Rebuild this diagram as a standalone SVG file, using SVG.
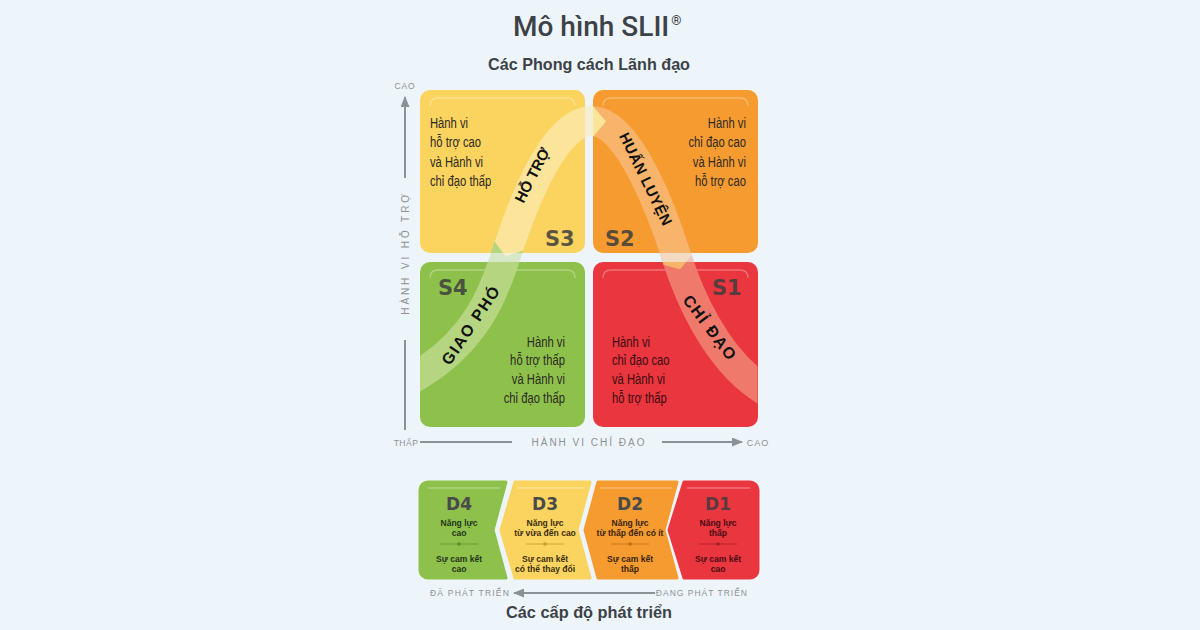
<svg xmlns="http://www.w3.org/2000/svg" width="1200" height="630" viewBox="0 0 1200 630">
<style>
.body{font-family:"Liberation Sans",Arial,sans-serif;font-size:15px;fill:#2e2a25}
.slab{font-family:"DejaVu Sans",sans-serif;font-weight:bold;font-size:21px;fill:#3d3d3d;fill-opacity:.85}
.band{font-family:"Liberation Sans",Arial,sans-serif;font-weight:bold;fill:#111;dominant-baseline:central;text-anchor:middle}
.axis{font-family:"Liberation Sans",Arial,sans-serif;fill:#8c9196}
.dlab{font-family:"DejaVu Sans",sans-serif;font-weight:bold;font-size:17px;fill:#4a4a4a;text-anchor:middle}
.dtx{font-family:"Liberation Sans",Arial,sans-serif;font-weight:bold;font-size:9.5px;text-anchor:middle}
.hl{fill:none;stroke:#fff;stroke-opacity:.3;stroke-width:1.5}
.bandpath{fill:none;stroke-width:30}
.ax{stroke:#8c9196;stroke-width:2;fill:none}
</style>
<defs>
<marker id="ah" markerUnits="userSpaceOnUse" markerWidth="11" markerHeight="9" refX="10" refY="4.5" orient="auto">
<path d="M0,0 L11,4.5 L0,9 Z" fill="#8c9196"/>
</marker>
<path id="curve" d="M 394 390 L 420 374 C 475 340 493 295 505 258 C 517 221 550 121 592 121 C 630 121 665 220 677 258 C 689 296 715 355 757 385 L 781 402"/>
<clipPath id="cG"><rect x="420" y="230" width="172" height="197"/></clipPath>
<clipPath id="cR"><rect x="589" y="230" width="168.5" height="197"/></clipPath>
<clipPath id="cO"><polygon points="592,88 760,88 760,230 697,249.4 680,269.3 655,262.6 592,282.5"/></clipPath>
<clipPath id="cY"><polygon points="420,88 592,88 592,105 606,121.5 592,138 592,270.9 526.6,249.6 505.5,256.4 492.4,238.4 420,214.8"/></clipPath>
</defs>
<rect width="1200" height="630" fill="#EEF5FA"/>

<text x="513" y="36" style="font-family:Roboto,'Liberation Sans',sans-serif;font-weight:500;font-size:28px;fill:#3c4248">Mô hình SLII<tspan dx="2" dy="-11" style="font-size:13px">®</tspan></text>
<text x="589" y="70" text-anchor="middle" textLength="202" lengthAdjust="spacingAndGlyphs" style="font-family:'Liberation Sans',Arial,sans-serif;font-weight:bold;font-size:17px;fill:#3c4248">Các Phong cách Lãnh đạo</text>

<g id="S3">
<rect x="420" y="90" width="165" height="163" rx="10" fill="#FAD45F"/>
<path class="hl" d="M430 106 Q430 98 438 98 L567 98 Q575 98 575 106"/>
<g transform="translate(430 0) scale(0.75 1)">
<text class="body" x="0" y="128">Hành vi</text>
<text class="body" x="0" y="147.5">hỗ trợ cao</text>
<text class="body" x="0" y="167">và Hành vi</text>
<text class="body" x="0" y="186.5">chỉ đạo thấp</text>
</g>
</g>
<g id="S2">
<rect x="593" y="90" width="165" height="163" rx="10" fill="#F59B2F"/>
<path class="hl" d="M603 106 Q603 98 611 98 L740 98 Q748 98 748 106"/>
<g transform="translate(746 0) scale(0.75 1)" text-anchor="end">
<text class="body" x="0" y="128">Hành vi</text>
<text class="body" x="0" y="147.5">chỉ đạo cao</text>
<text class="body" x="0" y="167">và Hành vi</text>
<text class="body" x="0" y="186.5">hỗ trợ cao</text>
</g>
</g>
<g id="S4">
<rect x="420" y="262" width="165" height="165" rx="10" fill="#8DC14B"/>
<path class="hl" d="M430 278 Q430 270 438 270 L567 270 Q575 270 575 278"/>
<g transform="translate(565 0) scale(0.75 1)" text-anchor="end">
<text class="body" x="0" y="346.5">Hành vi</text>
<text class="body" x="0" y="365.5">hỗ trợ thấp</text>
<text class="body" x="0" y="384.5">và Hành vi</text>
<text class="body" x="0" y="403.5">chỉ đạo thấp</text>
</g>
</g>
<g id="S1">
<rect x="593" y="262" width="165" height="165" rx="10" fill="#E9363F"/>
<path class="hl" d="M603 278 Q603 270 611 270 L740 270 Q748 270 748 278"/>
<g transform="translate(612 0) scale(0.75 1)">
<text class="body" x="0" y="346.5" style="fill:#3d0c10">Hành vi</text>
<text class="body" x="0" y="365.5" style="fill:#3d0c10">chỉ đạo cao</text>
<text class="body" x="0" y="384.5" style="fill:#3d0c10">và Hành vi</text>
<text class="body" x="0" y="403.5" style="fill:#3d0c10">hỗ trợ thấp</text>
</g>
</g>

<g id="connectors">
<use href="#curve" class="bandpath" stroke="#B5D580" clip-path="url(#cG)"/>
<use href="#curve" class="bandpath" stroke="#EF7A6B" clip-path="url(#cR)"/>
<use href="#curve" class="bandpath" stroke="#F8B46A" clip-path="url(#cO)"/>
<use href="#curve" class="bandpath" stroke="#FCE49A" clip-path="url(#cY)"/>
<rect x="585" y="90" width="8" height="337" fill="#EEF5FA" fill-opacity="0.6"/>
<rect x="420" y="253" width="338" height="9" fill="#EEF5FA" fill-opacity="0.6"/>
<line class="ax" x1="405" y1="178" x2="405" y2="97" marker-end="url(#ah)"/>
<line class="ax" x1="405" y1="340" x2="405" y2="430"/>
<line class="ax" x1="420" y1="442" x2="512" y2="442"/>
<line class="ax" x1="662" y1="442" x2="742" y2="442" marker-end="url(#ah)"/>
<line class="ax" x1="655" y1="593" x2="514" y2="593" marker-end="url(#ah)"/>
</g>

<text class="band" transform="translate(532 175) rotate(-63)" style="font-size:15px">HỖ TRỢ</text>
<text class="band" transform="translate(646 179) rotate(64)" style="font-size:15px;letter-spacing:0.3px">HUẤN LUYỆN</text>
<text class="band" transform="translate(471 325) rotate(-56)" style="font-size:16px;letter-spacing:1.5px">GIAO PHÓ</text>
<text class="band" transform="translate(710 328) rotate(53)" style="font-size:16px;letter-spacing:1.5px">CHỈ ĐẠO</text>

<text class="slab" x="545" y="246">S3</text>
<text class="slab" x="605" y="246">S2</text>
<text class="slab" x="438" y="295">S4</text>
<text class="slab" x="712" y="295">S1</text>

<text class="axis" x="405" y="89" text-anchor="middle" style="font-size:8.5px;letter-spacing:0.8px">CAO</text>
<text class="axis" transform="translate(405 253) rotate(-90)" text-anchor="middle" dominant-baseline="central" style="font-size:10px;letter-spacing:2.9px">HÀNH VI HỖ TRỢ</text>
<text class="axis" x="406" y="446" text-anchor="middle" style="font-size:8.5px;letter-spacing:0.5px">THẤP</text>
<text class="axis" x="589" y="446" text-anchor="middle" style="font-size:10px;letter-spacing:2px">HÀNH VI CHỈ ĐẠO</text>
<text class="axis" x="758" y="446" text-anchor="middle" style="font-size:9px;letter-spacing:1px">CAO</text>

<g id="D4">
<path d="M428 482 H506 L493 530 L506 578 H428 A8 8 0 0 1 420 570 V490 A8 8 0 0 1 428 482 Z" fill="#8DC14B" stroke="#8DC14B" stroke-width="3" stroke-linejoin="round"/>
<path class="hl" d="M428 488 H500"/>
<text class="dlab" x="459" y="510">D4</text>
<g transform="translate(459 0) scale(0.9 1)" style="fill:#26331a">
<text class="dtx" x="0" y="526">Năng lực</text>
<text class="dtx" x="0" y="536">cao</text>
<text class="dtx" x="0" y="562">Sự cam kết</text>
<text class="dtx" x="0" y="572">cao</text>
</g>
<line x1="440" y1="544" x2="478" y2="544" stroke="#5f8f2c" stroke-width="0.8"/>
<circle cx="459" cy="544" r="1.8" fill="#5f8f2c"/>
</g>
<g id="D3">
<path d="M515 482 H590 L577 530 L590 578 H515 L501 530 Z" fill="#FAD45F" stroke="#FAD45F" stroke-width="3" stroke-linejoin="round"/>
<path class="hl" d="M517 488 H585"/>
<text class="dlab" x="545" y="510">D3</text>
<g transform="translate(545 0) scale(0.9 1)" style="fill:#3a2e10">
<text class="dtx" x="0" y="526">Năng lực</text>
<text class="dtx" x="0" y="536">từ vừa đến cao</text>
<text class="dtx" x="0" y="562">Sự cam kết</text>
<text class="dtx" x="0" y="572">có thể thay đổi</text>
</g>
<line x1="526" y1="544" x2="564" y2="544" stroke="#c99a2a" stroke-width="0.8"/>
<circle cx="545" cy="544" r="1.8" fill="#c99a2a"/>
</g>
<g id="D2">
<path d="M598 482 H677 L664 530 L677 578 H598 L585 530 Z" fill="#F59B2F" stroke="#F59B2F" stroke-width="3" stroke-linejoin="round"/>
<path class="hl" d="M600 488 H672"/>
<text class="dlab" x="630" y="510">D2</text>
<g transform="translate(630 0) scale(0.9 1)" style="fill:#3a2410">
<text class="dtx" x="0" y="526">Năng lực</text>
<text class="dtx" x="0" y="536">từ thấp đến có ít</text>
<text class="dtx" x="0" y="562">Sự cam kết</text>
<text class="dtx" x="0" y="572">thấp</text>
</g>
<line x1="611" y1="544" x2="649" y2="544" stroke="#c06e18" stroke-width="0.8"/>
<circle cx="630" cy="544" r="1.8" fill="#c06e18"/>
</g>
<g id="D1">
<path d="M684 482 H750 A8 8 0 0 1 758 490 V570 A8 8 0 0 1 750 578 H684 L669 530 Z" fill="#E9363F" stroke="#E9363F" stroke-width="3" stroke-linejoin="round"/>
<path class="hl" d="M687 488 H750"/>
<text class="dlab" x="718" y="510" style="fill:#5a3a3e">D1</text>
<g transform="translate(718 0) scale(0.9 1)" style="fill:#4a0c12">
<text class="dtx" x="0" y="526">Năng lực</text>
<text class="dtx" x="0" y="536">thấp</text>
<text class="dtx" x="0" y="562">Sự cam kết</text>
<text class="dtx" x="0" y="572">cao</text>
</g>
<line x1="699" y1="544" x2="737" y2="544" stroke="#a81f28" stroke-width="0.8"/>
<circle cx="718" cy="544" r="1.8" fill="#a81f28"/>
</g>

<text class="axis" x="430" y="596" style="font-size:8.5px;letter-spacing:1.2px">ĐÃ PHÁT TRIỂN</text>
<text class="axis" x="748" y="596" text-anchor="end" style="font-size:8.5px;letter-spacing:1px">ĐANG PHÁT TRIỂN</text>
<text x="589" y="618" text-anchor="middle" textLength="166" lengthAdjust="spacingAndGlyphs" style="font-family:'Liberation Sans',Arial,sans-serif;font-weight:bold;font-size:17px;fill:#3c4248">Các cấp độ phát triển</text>
</svg>
